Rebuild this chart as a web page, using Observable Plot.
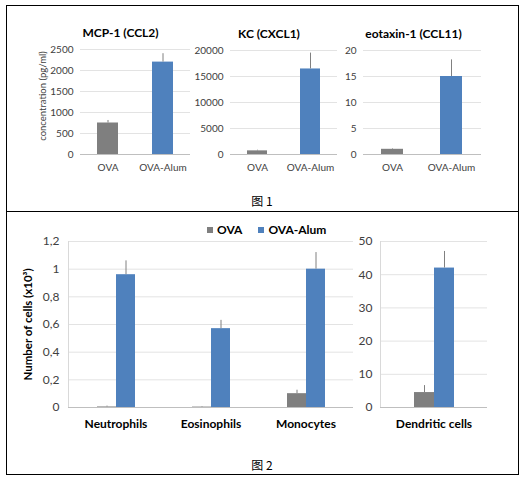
<!DOCTYPE html>
<html>
<head>
<meta charset="utf-8">
<script src="https://cdn.jsdelivr.net/npm/d3@7"></script>
<script src="https://cdn.jsdelivr.net/npm/@observablehq/plot@0.6"></script>
<style>
  body { margin: 0; background: #fff; }
  #page { position: relative; width: 525px; height: 480px; font-family: Lato, sans-serif; }
  .box { position: absolute; border: 1px solid #000; box-sizing: border-box; }
  .chart { position: absolute; }
  .chart svg { background: transparent !important; }
  .cap { position: absolute; width: 60px; text-align: center; font-family: "Noto Sans CJK SC", sans-serif; font-size: 12px; color: #000; }
  .legend { position: absolute; left: 207px; top: 222px; font: bold 12px Lato, sans-serif; color: #000; white-space: nowrap; }
  .legend span.sw { display: inline-block; width: 6px; height: 6px; margin-right: 4px; vertical-align: 1px; }
</style>
</head>
<body>
<div id="page">
  <div class="box" style="left:6px;top:5px;width:513px;height:207px"></div>
  <div class="box" style="left:6px;top:211px;width:513px;height:264px"></div>
  <div class="chart" id="c1" style="left:20px;top:20px;width:180px"></div>
  <div class="chart" id="c2" style="left:185px;top:20px;width:160px"></div>
  <div class="chart" id="c3" style="left:335px;top:20px;width:160px"></div>
  <div class="cap" style="left:232px;top:192px">图 1</div>
  <div class="legend" id="legend"></div>
  <div class="chart" id="c4" style="left:0px;top:215px;width:365px"></div>
  <div class="chart" id="c5" style="left:345px;top:215px;width:160px"></div>
  <div class="cap" style="left:232px;top:456px">图 2</div>
</div>
<script>
// groups and colours
const groups = ['OVA', 'OVA-Alum'];
const groupColors = ['#7f7f7f', '#4f81bd'];

// figure 1: cytokines, mean and upper error
const mcp = [750, 2200];
const mcpErr = [60, 200];
const mcpTicks = [0, 500, 1000, 1500, 2000, 2500];

const kc = [700, 16450];
const kcErr = [120, 3050];
const kcTicks = [0, 5000, 10000, 15000, 20000];

const eot = [1, 15];
const eotErr = [0.1, 3.2];
const eotTicks = [0, 5, 10, 15, 20];

// figure 2: cell counts
const cellTypes = ['Neutrophils', 'Eosinophils', 'Monocytes'];
const ovaCells = [0.004, 0.003, 0.10];
const ovaCellsErr = [0.006, 0.004, 0.025];
const alumCells = [0.96, 0.57, 1.00];
const alumCellsErr = [0.10, 0.06, 0.12];
const cellTicks = [0, 0.2, 0.4, 0.6, 0.8, 1, 1.2];

const dcTypes = ['Dendritic cells'];
const ovaDc = [4.5];
const ovaDcErr = [2.1];
const alumDc = [42];
const alumDcErr = [5];
const dcTicks = [0, 10, 20, 30, 40, 50];

const font = 'Lato, sans-serif';
const color = {domain: groups, range: groupColors};
const grid = '#e3e3e3';
const base = '#bfbfbf';
const errColor = '#808080';
const commaFmt = d => String(+d.toFixed(1)).replace('.', ',');

function cytoChart(sel, values, errs, ticks, title, ylabel, opts) {
  const rows = groups.map((g, i) => ({group: g, value: values[i], err: errs[i]}));
  const chart = Plot.plot({
    width: opts.width,
    height: 165,
    marginLeft: opts.marginLeft,
    marginRight: opts.marginRight,
    marginTop: opts.marginTop,
    marginBottom: 31,
    style: {fontFamily: font, fontSize: '10px', color: '#404040', background: 'transparent', overflow: 'visible'},
    x: {domain: groups, paddingInner: 0.62, paddingOuter: 0.31},
    y: {domain: [0, ticks[ticks.length - 1]]},
    color,
    marks: [
      Plot.gridY(ticks, {stroke: grid, strokeOpacity: 1}),
      Plot.barY(rows, {x: 'group', y: 'value', fill: 'group'}),
      Plot.ruleX(rows, {x: 'group', y1: 'value', y2: d => d.value + d.err, stroke: errColor}),
      Plot.ruleY([0], {stroke: base}),
      Plot.axisX({tickSize: 0, tickPadding: 9, label: null}),
      Plot.axisY(ticks, {tickSize: 0, tickPadding: 7, label: null, tickFormat: d => String(d)}),
      Plot.text([title], {frameAnchor: 'top', lineAnchor: 'middle', dy: -16, dx: opts.titleDx,
        fontWeight: 'bold', fontSize: 12, fill: '#000'}),
      ylabel ? Plot.text([ylabel], {frameAnchor: 'left', textAnchor: 'middle', rotate: -90,
        dx: -38, dy: -6, fontSize: 9.5}) : null,
    ],
  });
  d3.select(sel).append(() => chart);
}

cytoChart('#c1', mcp, mcpErr, mcpTicks, 'MCP-1 (CCL2)', 'concentration (pg/ml)',
  {width: 180, marginLeft: 60, marginRight: 10, marginTop: 29, titleDx: -15});
cytoChart('#c2', kc, kcErr, kcTicks, 'KC (CXCL1)', null,
  {width: 160, marginLeft: 45, marginRight: 8, marginTop: 30, titleDx: -15});
cytoChart('#c3', eot, eotErr, eotTicks, 'eotaxin-1 (CCL11)', null,
  {width: 160, marginLeft: 28, marginRight: 14, marginTop: 30, titleDx: -9});

function cellChart(sel, cats, ova, ovaErr, alum, alumErr, ticks, tickFormat, ylabel, opts) {
  const rows = cats.flatMap((c, i) => [
    {cell: c, group: 'OVA', value: ova[i], err: ovaErr[i]},
    {cell: c, group: 'OVA-Alum', value: alum[i], err: alumErr[i]},
  ]);
  const chart = Plot.plot({
    width: opts.width,
    height: 230,
    marginLeft: opts.marginLeft,
    marginRight: opts.marginRight,
    marginTop: 26,
    marginBottom: 38,
    style: {fontFamily: font, fontSize: '12px', color: '#404040', background: 'transparent', overflow: 'visible'},
    fx: {domain: cats, padding: 0},
    x: {domain: groups, paddingInner: 0, paddingOuter: opts.outer, axis: null},
    y: {domain: [0, ticks[ticks.length - 1]]},
    color,
    marks: [
      Plot.gridY(ticks, {stroke: grid, strokeOpacity: 1}),
      Plot.frame({anchor: 'left', stroke: '#d9d9d9', facetAnchor: 'left'}),
      Plot.barY(rows, {fx: 'cell', x: 'group', y: 'value', fill: 'group'}),
      Plot.ruleX(rows, {fx: 'cell', x: 'group', y1: 'value', y2: d => d.value + d.err, stroke: errColor}),
      Plot.ruleY([0], {stroke: base}),
      Plot.axisFx({anchor: 'bottom', tickSize: 0, tickPadding: 12, label: null,
        fontWeight: 'bold', fontSize: 12, fill: '#000'}),
      Plot.axisY(ticks, {tickSize: 0, tickPadding: opts.tickPadding, label: null, tickFormat}),
      ylabel ? Plot.text([ylabel], {frameAnchor: 'left', textAnchor: 'middle', rotate: -90,
        dx: -40, fontWeight: 'bold', fontSize: 11.5, fill: '#000', facetAnchor: 'left'}) : null,
    ],
  });
  d3.select(sel).append(() => chart);
}

cellChart('#c4', cellTypes, ovaCells, ovaCellsErr, alumCells, alumCellsErr, cellTicks, commaFmt,
  'Number of cells (x10³)', {width: 365, marginLeft: 68, marginRight: 12, outer: 1.44, tickPadding: 9});
cellChart('#c5', dcTypes, ovaDc, ovaDcErr, alumDc, alumDcErr, dcTicks, d => String(d),
  null, {width: 160, marginLeft: 35, marginRight: 18, outer: 1.6, tickPadding: 8});

// legend
const legend = d3.select('#legend');
groups.forEach((g, i) => {
  const item = legend.append('span').style('margin-right', i === 0 ? '16px' : '0');
  item.append('span').attr('class', 'sw').style('background', groupColors[i]);
  item.append('span').text(g);
});
</script>
</body>
</html>
